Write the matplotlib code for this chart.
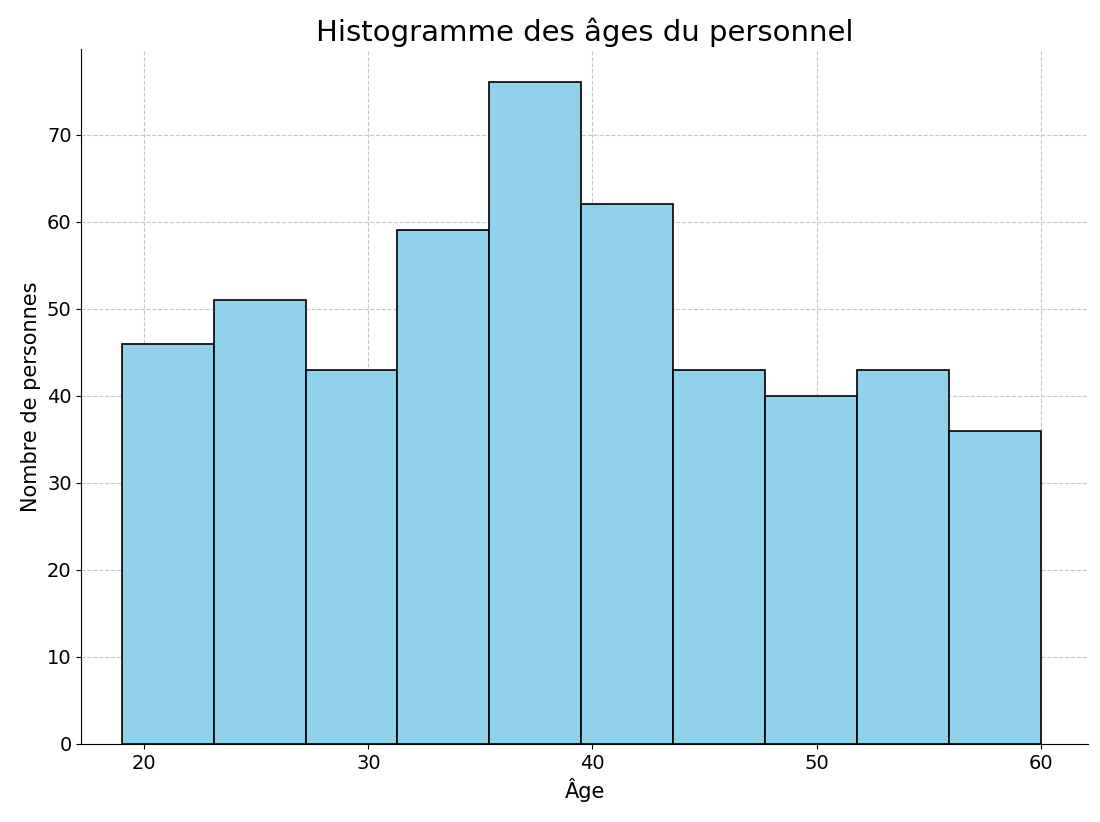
import matplotlib
matplotlib.use("Agg")
import matplotlib.pyplot as plt
import numpy as np

# bin edges and counts
bin_edges = [19.0, 23.1, 27.2, 31.3, 35.4, 39.5, 43.6, 47.7, 51.8, 55.9, 60.0]
counts = [46, 51, 43, 59, 76, 62, 43, 40, 43, 36]
x_ticks = [20, 30, 40, 50, 60]
y_ticks = [0, 10, 20, 30, 40, 50, 60, 70]

fig = plt.figure(figsize=(11, 8.22), dpi=100)
ax = fig.add_axes([0.074, 0.095, 0.915, 0.845])

ax.hist(bin_edges[:-1], bins=bin_edges, weights=counts,
        color="#8fd1ea", edgecolor="black", linewidth=1.2, zorder=3)

ax.set_xlim(17.2, 62.1)
ax.set_ylim(0, 79.8)
ax.set_xticks(x_ticks)
ax.set_yticks(y_ticks)
ax.tick_params(labelsize=14)
ax.grid(True, linestyle="--", color="#c8c4d4", linewidth=0.8, zorder=0)
ax.spines["top"].set_visible(False)
ax.spines["right"].set_visible(False)

ax.set_title("Histogramme des âges du personnel", fontsize=21)
ax.set_xlabel("Âge", fontsize=15)
ax.set_ylabel("Nombre de personnes", fontsize=15)

fig.savefig("out.png")
